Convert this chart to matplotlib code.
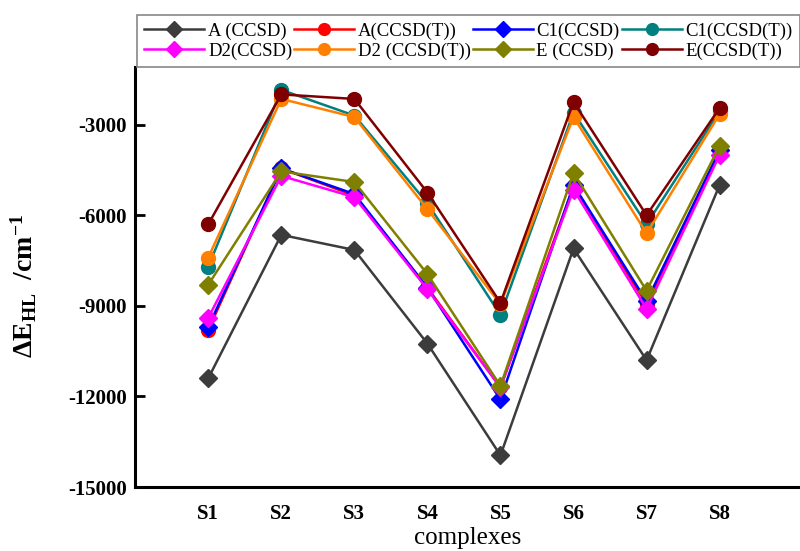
import numpy as np
import matplotlib
matplotlib.use('Agg')
import matplotlib.pyplot as plt

plt.rcParams['font.family'] = ['Liberation Serif', 'DejaVu Serif']
plt.rcParams['mathtext.fontset'] = 'custom'
plt.rcParams['mathtext.rm'] = 'Liberation Serif'
plt.rcParams['mathtext.bf'] = 'Liberation Serif:bold'
plt.rcParams['axes.unicode_minus'] = False

complexes = ['S1', 'S2', 'S3', 'S4', 'S5', 'S6', 'S7', 'S8']

# valores (cm^-1)
a_ccsd = [-11400, -6650, -7150, -10250, -13950, -7100, -10800, -5000]
a_ccsdt = [-9800, -4450, -5350, -8400, -11700, -5050, -8950, -3900]
c1_ccsd = [-9700, -4450, -5300, -8400, -12100, -5000, -8850, -3850]
c1_ccsdt = [-7700, -1850, -2700, -5600, -9300, -2600, -6300, -2550]
d2_ccsd = [-9400, -4700, -5400, -8450, -11700, -5150, -9100, -4000]
d2_ccsdt = [-7400, -2150, -2750, -5800, -8950, -2750, -6600, -2650]
e_ccsd = [-8300, -4550, -4900, -7950, -11650, -4600, -8500, -3700]
e_ccsdt = [-6300, -2000, -2150, -5250, -8900, -2250, -6000, -2450]

series = [
    ('A (CCSD)', a_ccsd, '#3c3c3c', 'D'),
    ('A(CCSD(T))', a_ccsdt, '#ff0000', 'o'),
    ('C1(CCSD)', c1_ccsd, '#0000ff', 'D'),
    ('C1(CCSD(T))', c1_ccsdt, '#008080', 'o'),
    ('D2(CCSD)', d2_ccsd, '#ff00ff', 'D'),
    ('D2 (CCSD(T))', d2_ccsdt, '#ff8000', 'o'),
    ('E (CCSD)', e_ccsd, '#808000', 'D'),
    ('E(CCSD(T))', e_ccsdt, '#800000', 'o'),
]

fig = plt.figure(figsize=(8, 5.51), dpi=100)
ax = fig.add_axes([0.169, 0.116, 0.831, 0.762])

x = np.arange(1, len(complexes) + 1)
handles = []
for label, vals, color, marker in series:
    ms = 9.5 if marker == 'D' else 10
    h, = ax.plot(x, vals, color=color, marker=marker, markersize=ms,
                 linewidth=1.8, label=label, markeredgecolor=color)
    handles.append(h)

ax.set_xlim(0, 9.1)
ax.set_ylim(-15000, -1100)
ax.set_xticks(x)
ax.set_xticklabels(complexes)
ax.set_yticks([-15000, -12000, -9000, -6000, -3000])
ax.tick_params(axis='x', length=0, pad=12, labelsize=15)
ax.tick_params(axis='y', direction='in', length=7, width=2, labelsize=15, pad=6)
for lab in ax.get_xticklabels() + ax.get_yticklabels():
    lab.set_fontweight('bold')

ax.spines['top'].set_visible(False)
ax.spines['right'].set_visible(False)
ax.spines['left'].set_linewidth(2.2)
ax.spines['bottom'].set_linewidth(2.2)

ax.set_xlabel('complexes', fontsize=18, labelpad=2)
ax.set_ylabel(r'$\mathbf{\Delta E_{HL}}$  $\mathbf{/cm^{-1}}$', fontsize=20)
ax.yaxis.set_label_coords(-0.145, 0.48)

# orden para que las filas queden como en la figura
orden = [0, 4, 1, 5, 2, 6, 3, 7]
leg = fig.legend([handles[i] for i in orden], [series[i][0] for i in orden],
                 ncol=4, loc='lower left', bbox_to_anchor=(0.171, 0.878, 0.829, 0.1),
                 mode='expand', fontsize=13.5, handlelength=3.2, handletextpad=0.2,
                 columnspacing=0.2, labelspacing=0.15, borderaxespad=0,
                 markerscale=0.85, fancybox=False, edgecolor='#888888', framealpha=1)
leg.get_frame().set_linewidth(1.2)

plt.savefig('out.png', dpi=100)
